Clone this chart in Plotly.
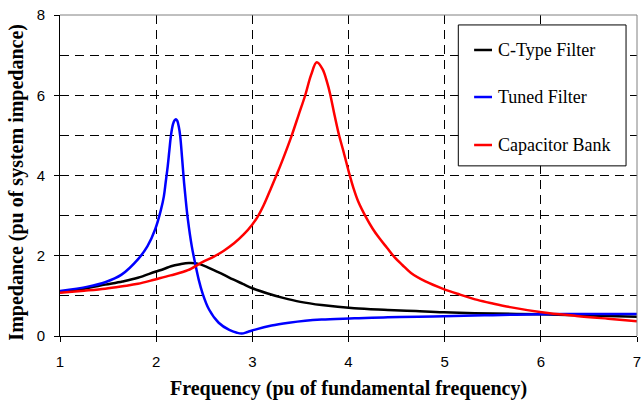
import plotly.graph_objects as go

# ---- data ----
series_names = ["C-Type Filter", "Tuned Filter", "Capacitor Bank"]
series_colors = ["#000000", "#0000FF", "#FF0000"]

ctype_x = [1.0, 1.25, 1.47, 1.65, 1.81, 1.99, 2.08, 2.155, 2.25, 2.34, 2.42, 2.52, 2.6, 2.7, 2.8, 2.9, 3.0,
           3.16, 3.32, 3.5, 3.72, 4.06, 4.41, 4.7, 4.99, 5.5, 5.99, 6.5, 7.0]
ctype_y = [1.09, 1.18, 1.28, 1.36, 1.45, 1.60, 1.67, 1.74, 1.79, 1.82, 1.81, 1.73, 1.64, 1.53, 1.41, 1.30, 1.19,
           1.06, 0.95, 0.85, 0.77, 0.69, 0.65, 0.62, 0.59, 0.56, 0.54, 0.51, 0.48]

tuned_x = [1.0, 1.29, 1.47, 1.64, 1.81, 1.91, 1.99, 2.05, 2.08, 2.10, 2.12, 2.137, 2.155, 2.175, 2.19, 2.206, 2.22,
           2.235, 2.25, 2.269, 2.29, 2.31, 2.33, 2.37, 2.41, 2.445, 2.48, 2.55, 2.65, 2.76, 2.84, 2.89, 2.95,
           3.03, 3.2, 3.38, 3.55, 3.72, 4.06, 4.41, 4.99, 5.5, 5.99, 6.5, 7.0]
tuned_y = [1.12, 1.23, 1.34, 1.53, 1.91, 2.24, 2.66, 3.15, 3.48, 3.85, 4.23, 4.62, 5.02, 5.28, 5.37, 5.40, 5.36,
           5.22, 4.98, 4.45, 3.82, 3.33, 2.90, 2.24, 1.76, 1.38, 1.08, 0.66, 0.33, 0.15, 0.08, 0.06, 0.10,
           0.16, 0.26, 0.33, 0.38, 0.41, 0.44, 0.47, 0.49, 0.52, 0.54, 0.55, 0.55]

cap_x = [1.0, 1.25, 1.47, 1.65, 1.81, 1.99, 2.15, 2.33, 2.48, 2.6, 2.70, 2.81, 2.91, 3.0, 3.05, 3.12, 3.19, 3.255,
         3.32, 3.41, 3.48, 3.55, 3.61, 3.67, 3.73, 3.78, 3.81, 3.855, 3.90, 3.95, 4.01, 4.05, 4.10, 4.18, 4.25,
         4.32, 4.40, 4.48, 4.56, 4.65, 4.8, 4.99, 5.15, 5.34, 5.5, 5.68, 5.99, 6.37, 6.7, 7.0]
cap_y = [1.08, 1.13, 1.18, 1.24, 1.30, 1.41, 1.51, 1.64, 1.84, 1.98, 2.12, 2.31, 2.53, 2.78, 2.95, 3.27, 3.66, 4.03,
         4.42, 5.00, 5.50, 6.00, 6.50, 6.82, 6.65, 6.30, 6.02, 5.50, 5.02, 4.58, 4.03, 3.70, 3.36, 2.97, 2.68,
         2.44, 2.20, 1.96, 1.77, 1.57, 1.36, 1.17, 1.04, 0.90, 0.81, 0.72, 0.60, 0.50, 0.43, 0.37]

x_ticks = [1, 2, 3, 4, 5, 6, 7]
y_ticks = [0, 2, 4, 6, 8]

xs = [ctype_x, tuned_x, cap_x]
ys = [ctype_y, tuned_y, cap_y]

fig = go.Figure()
for name, color, x, y in zip(series_names, series_colors, xs, ys):
    fig.add_trace(go.Scatter(x=x, y=y, mode="lines", name=name,
                             line=dict(color=color, width=2.5, shape="spline", smoothing=1.0),
                             showlegend=False))

grid_style = dict(gridcolor="#000000", gridwidth=1, griddash="9px,6px")

fig.update_xaxes(range=[1, 7], tickvals=x_ticks, showgrid=True, **grid_style,
                 showline=True, linecolor="#000000", linewidth=1, zeroline=False,
                 ticks="outside", ticklen=5, tickcolor="#000000",
                 tickfont=dict(family="Liberation Sans", size=15, color="#000000"),
                 ticklabelstandoff=7, ticklabeloverflow="allow")
fig.update_yaxes(range=[0, 8], tickvals=y_ticks, showgrid=True, **grid_style,
                 minor=dict(dtick=1, showgrid=True, **grid_style),
                 showline=True, linecolor="#000000", linewidth=1, zeroline=False,
                 ticks="outside", ticklen=5, tickcolor="#000000",
                 tickfont=dict(family="Liberation Sans", size=15, color="#000000"),
                 ticklabelstandoff=6)

shapes = [
    # top and right frame (grey)
    dict(type="line", xref="paper", yref="paper", x0=0, x1=1, y0=1, y1=1, line=dict(color="#808080", width=1)),
    dict(type="line", xref="paper", yref="paper", x0=1, x1=1, y0=0, y1=1, line=dict(color="#808080", width=1)),
    # legend box
    dict(type="rect", xref="paper", yref="paper", x0=0.6903, x1=0.981, y0=0.530, y1=0.969,
         fillcolor="#FFFFFF", line=dict(color="#000000", width=1), layer="above"),
]
annotations = []
leg_y = [0.891, 0.7445, 0.595]
for name, color, ly in zip(series_names, series_colors, leg_y):
    shapes.append(dict(type="line", xref="paper", yref="paper", x0=0.7177, x1=0.7487, y0=ly, y1=ly,
                       line=dict(color=color, width=2.5), layer="above"))
    annotations.append(dict(xref="paper", yref="paper", x=0.7556, y=ly, text=name, showarrow=False,
                            xanchor="left", yanchor="middle",
                            font=dict(family="Liberation Serif", size=18, color="#000000")))

title_font = dict(family="Liberation Serif", size=20, color="#000000")
annotations.append(dict(xref="paper", yref="paper", x=0.5, y=-0.163, yanchor="middle", xanchor="center",
                        text="<b>Frequency (pu of fundamental frequency)</b>", showarrow=False, font=title_font))
annotations.append(dict(xref="paper", yref="paper", x=-0.075, y=0.48, xanchor="center", yanchor="middle",
                        textangle=-90, text="<b>Impedance (pu of system impedance)</b>", showarrow=False,
                        font=title_font))

fig.update_layout(width=643, height=403, margin=dict(l=60, r=2, t=15, b=67),
                  paper_bgcolor="#FFFFFF", plot_bgcolor="#FFFFFF",
                  shapes=shapes, annotations=annotations, showlegend=False)

fig.write_html("out.html")
